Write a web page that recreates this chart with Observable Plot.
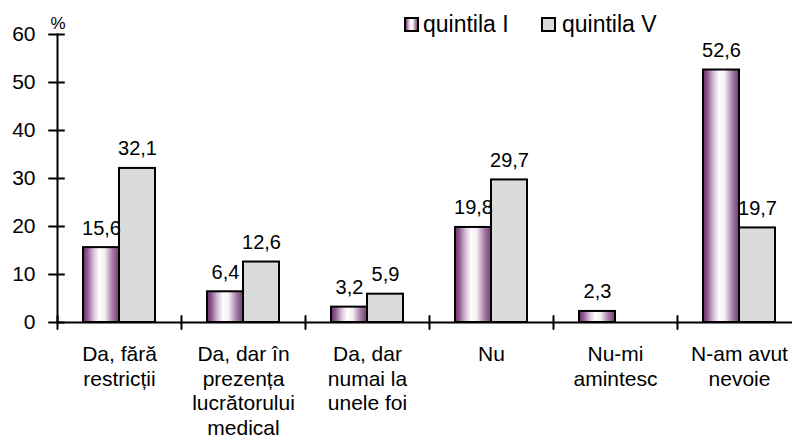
<!DOCTYPE html>
<html>
<head>
<meta charset="utf-8">
<script src="https://cdn.jsdelivr.net/npm/d3@7"></script>
<script src="https://cdn.jsdelivr.net/npm/@observablehq/plot@0.6"></script>
<style>
  html, body { margin: 0; padding: 0; background: #fff; }
  #chart { position: relative; width: 792px; height: 441px; overflow: hidden; }
</style>
</head>
<body>
<div id="chart"></div>
<script>
const categories = [
  "Da, fără\nrestricții",
  "Da, dar în\nprezența\nlucrătorului\nmedical",
  "Da, dar\nnumai la\nunele foi",
  "Nu",
  "Nu-mi\namintesc",
  "N-am avut\nnevoie"
];
const seriesNames = ["quintila I", "quintila V"];
const valuesI = [15.6, 6.4, 3.2, 19.8, 2.3, 52.6];
const valuesV = [32.1, 12.6, 5.9, 29.7, null, 19.7];
const yTicks = [0, 10, 20, 30, 40, 50, 60];

const rowsI = categories.map((c, i) => ({cat: c, v: valuesI[i]})).filter(d => d.v != null);
const rowsV = categories.map((c, i) => ({cat: c, v: valuesV[i]})).filter(d => d.v != null);
const fmt = v => String(v.toFixed(1)).replace(".", ",");

const FONT = "'Liberation Sans', Arial, Helvetica, sans-serif";
const lineShape = {draw(context, l) { context.moveTo(0, 0); context.lineTo(0, -l); }};

const defs = () => {
  const d = d3.create("svg:defs");
  const g = d.append("linearGradient").attr("id", "gradI").attr("x1", 0).attr("x2", 1).attr("y1", 0).attr("y2", 0);
  [[0, "#6a2a6a"], [0.12, "#8e5a8e"], [0.3, "#d8c4d8"], [0.45, "#ffffff"], [0.6, "#f6f0f6"], [0.82, "#a47ca4"], [1, "#743a74"]]
    .forEach(([o, c]) => g.append("stop").attr("offset", o).attr("stop-color", c));
  const p = d.append("pattern").attr("id", "patV").attr("patternUnits", "userSpaceOnUse").attr("width", 2).attr("height", 2);
  p.append("rect").attr("width", 2).attr("height", 2).attr("fill", "#e3e3e3");
  p.append("rect").attr("width", 1).attr("height", 1).attr("fill", "#d0d0d0");
  p.append("rect").attr("x", 1).attr("y", 1).attr("width", 1).attr("height", 1).attr("fill", "#d4d4d4");
  return d.node();
};

const plot = Plot.plot({
  width: 792,
  height: 441,
  marginLeft: 57,
  marginRight: 0,
  marginTop: 34,
  marginBottom: 119,
  style: {fontFamily: FONT, fontSize: "20px", color: "#000", background: "#fff", overflow: "hidden"},
  x: {domain: categories, range: [57, 801], padding: 0, axis: null},
  y: {domain: [0, 60], label: null},
  marks: [
    defs,
    Plot.barY(rowsI, {x: "cat", y: "v", insetLeft: 26, insetRight: 62, fill: "url(#gradI)", stroke: "#000", strokeWidth: 2}),
    Plot.barY(rowsV, {x: "cat", y: "v", insetLeft: 62, insetRight: 26, fill: "url(#patV)", stroke: "#000", strokeWidth: 2}),
    Plot.text(rowsI, {x: "cat", y: "v", text: d => fmt(d.v), dx: -18, dy: -13, lineAnchor: "bottom", fontSize: 20, fill: "#000"}),
    Plot.text(rowsV, {x: "cat", y: "v", text: d => fmt(d.v), dx: 18, dy: -13, lineAnchor: "bottom", fontSize: 20, fill: "#000"}),
    Plot.frame({anchor: "left", stroke: "#000", strokeWidth: 2}),
    Plot.ruleY([0], {stroke: "#000", strokeWidth: 2}),
    Plot.vector(yTicks, {y: d => d, frameAnchor: "left", length: 15, rotate: 90, anchor: "middle", shape: lineShape, stroke: "#000", strokeWidth: 2, dx: -1}),
    Plot.vector(categories, {x: d => d, y: () => 0, dx: -62, length: 13, anchor: "middle", shape: lineShape, stroke: "#000", strokeWidth: 2}),
    Plot.axisY(yTicks, {tickSize: 0, tickPadding: 22, fontSize: 21, label: null}),
    Plot.text(categories, {x: d => d, y: () => 0, dy: 21, text: d => d, lineAnchor: "top", lineHeight: 1.17, fontSize: 21, fill: "#000"}),
    Plot.text(["%"], {frameAnchor: "top-left", dx: -7, dy: -6, lineAnchor: "bottom", fontSize: 17, fill: "#000"})
  ]
});

const svg = d3.select(plot);
const lg = svg.append("g");
const legendFills = ["url(#gradI)", "url(#patV)"];
const legendX = [405, 542];
seriesNames.forEach((name, i) => {
  lg.append("rect").attr("x", legendX[i]).attr("y", 18).attr("width", 13).attr("height", 13)
    .attr("fill", legendFills[i]).attr("stroke", "#000").attr("stroke-width", 2);
  lg.append("text").attr("x", legendX[i] + 18 + i * 2).attr("y", 32)
    .style("font-family", FONT).style("font-size", "23px").style("text-anchor", "start")
    .attr("fill", "#000").text(name);
});

document.getElementById("chart").appendChild(plot);
</script>
</body>
</html>
